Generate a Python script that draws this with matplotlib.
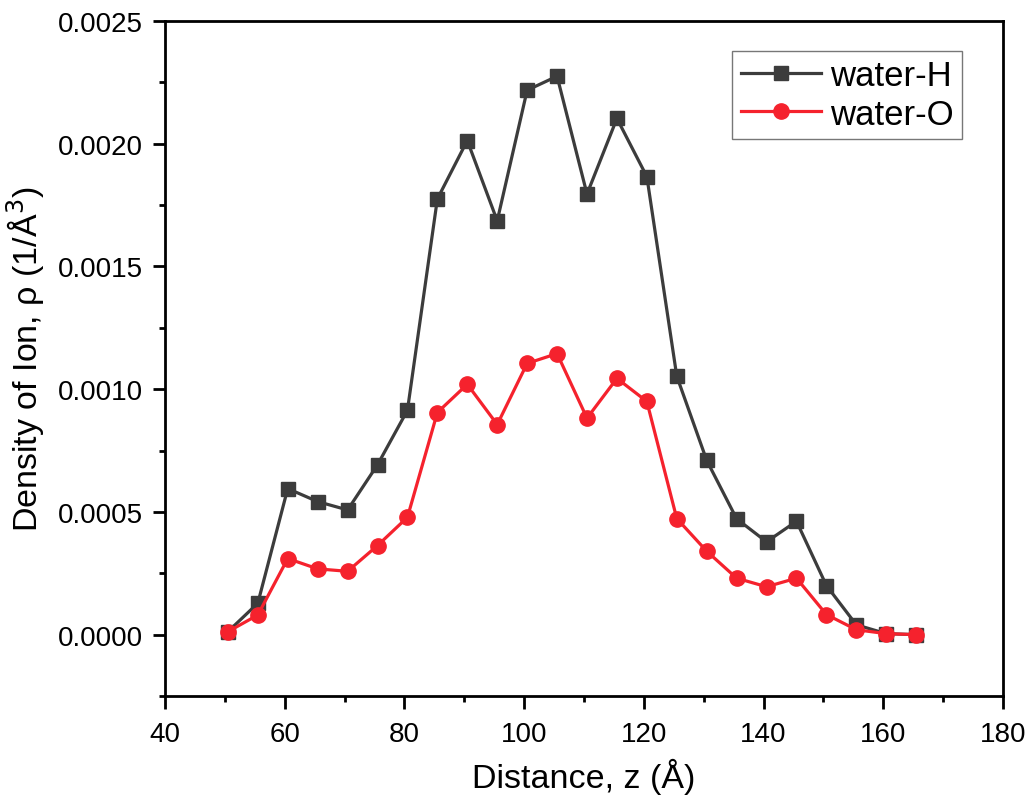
import matplotlib.pyplot as plt
from matplotlib.ticker import MultipleLocator, AutoMinorLocator

plt.rcParams['font.family'] = ['Liberation Sans', 'DejaVu Sans']

distance = [50.5, 55.5, 60.5, 65.5, 70.5, 75.5, 80.5, 85.5, 90.5, 95.5, 100.5, 105.5,
            110.5, 115.5, 120.5, 125.5, 130.5, 135.5, 140.5, 145.5, 150.5, 155.5, 160.5, 165.5]

water_h = [0.000012, 0.000128, 0.000595, 0.000542, 0.000508, 0.000692, 0.000914, 0.001775,
           0.002013, 0.001686, 0.002218, 0.002275, 0.001795, 0.002103, 0.001866, 0.001053,
           0.000710, 0.000472, 0.000378, 0.000462, 0.000200, 0.000040, 0.000004, 0.0]

water_o = [0.000012, 0.000080, 0.000310, 0.000268, 0.000258, 0.000363, 0.000478, 0.000905,
           0.001020, 0.000856, 0.001105, 0.001145, 0.000882, 0.001044, 0.000950, 0.000473,
           0.000340, 0.000230, 0.000195, 0.000230, 0.000082, 0.000020, 0.000004, 0.0]

fig = plt.figure(figsize=(10.27, 8.03), dpi=100)
ax = fig.add_axes([0.1607, 0.132, 0.8159, 0.8406])

ax.plot(distance, water_h, color='#3c3c3c', marker='s', markersize=10, linewidth=2.3,
        label='water-H')
ax.plot(distance, water_o, color='#f5222d', marker='o', markersize=11, linewidth=2.3,
        label='water-O')

ax.set_xlim(40, 180)
ax.set_ylim(-0.00025, 0.0025)
ax.xaxis.set_major_locator(MultipleLocator(20))
ax.yaxis.set_major_locator(MultipleLocator(0.0005))
ax.xaxis.set_minor_locator(AutoMinorLocator(2))
ax.yaxis.set_minor_locator(AutoMinorLocator(2))
ax.yaxis.set_major_formatter(plt.FormatStrFormatter('%.4f'))

ax.tick_params(which='major', direction='out', length=9, width=2, labelsize=20)
ax.tick_params(which='minor', direction='out', length=4.5, width=2)
ax.tick_params(axis='x', which='major', pad=9)
ax.tick_params(axis='y', which='major', pad=7)
for s in ax.spines.values():
    s.set_linewidth(2)

ax.set_xlabel('Distance, z (Å)', fontsize=24.5, labelpad=8)
ax.set_ylabel('Density of Ion, ρ (1/Å$^3$)', fontsize=24.5, labelpad=8)

leg = ax.legend(loc='upper right', bbox_to_anchor=(0.951, 0.956), borderaxespad=0,
                fontsize=25, fancybox=False, edgecolor='#555555', handlelength=2.3,
                borderpad=0.25, labelspacing=0.15, handletextpad=0.25)
leg.get_frame().set_linewidth(1)

fig.savefig('out.png', dpi=100)
